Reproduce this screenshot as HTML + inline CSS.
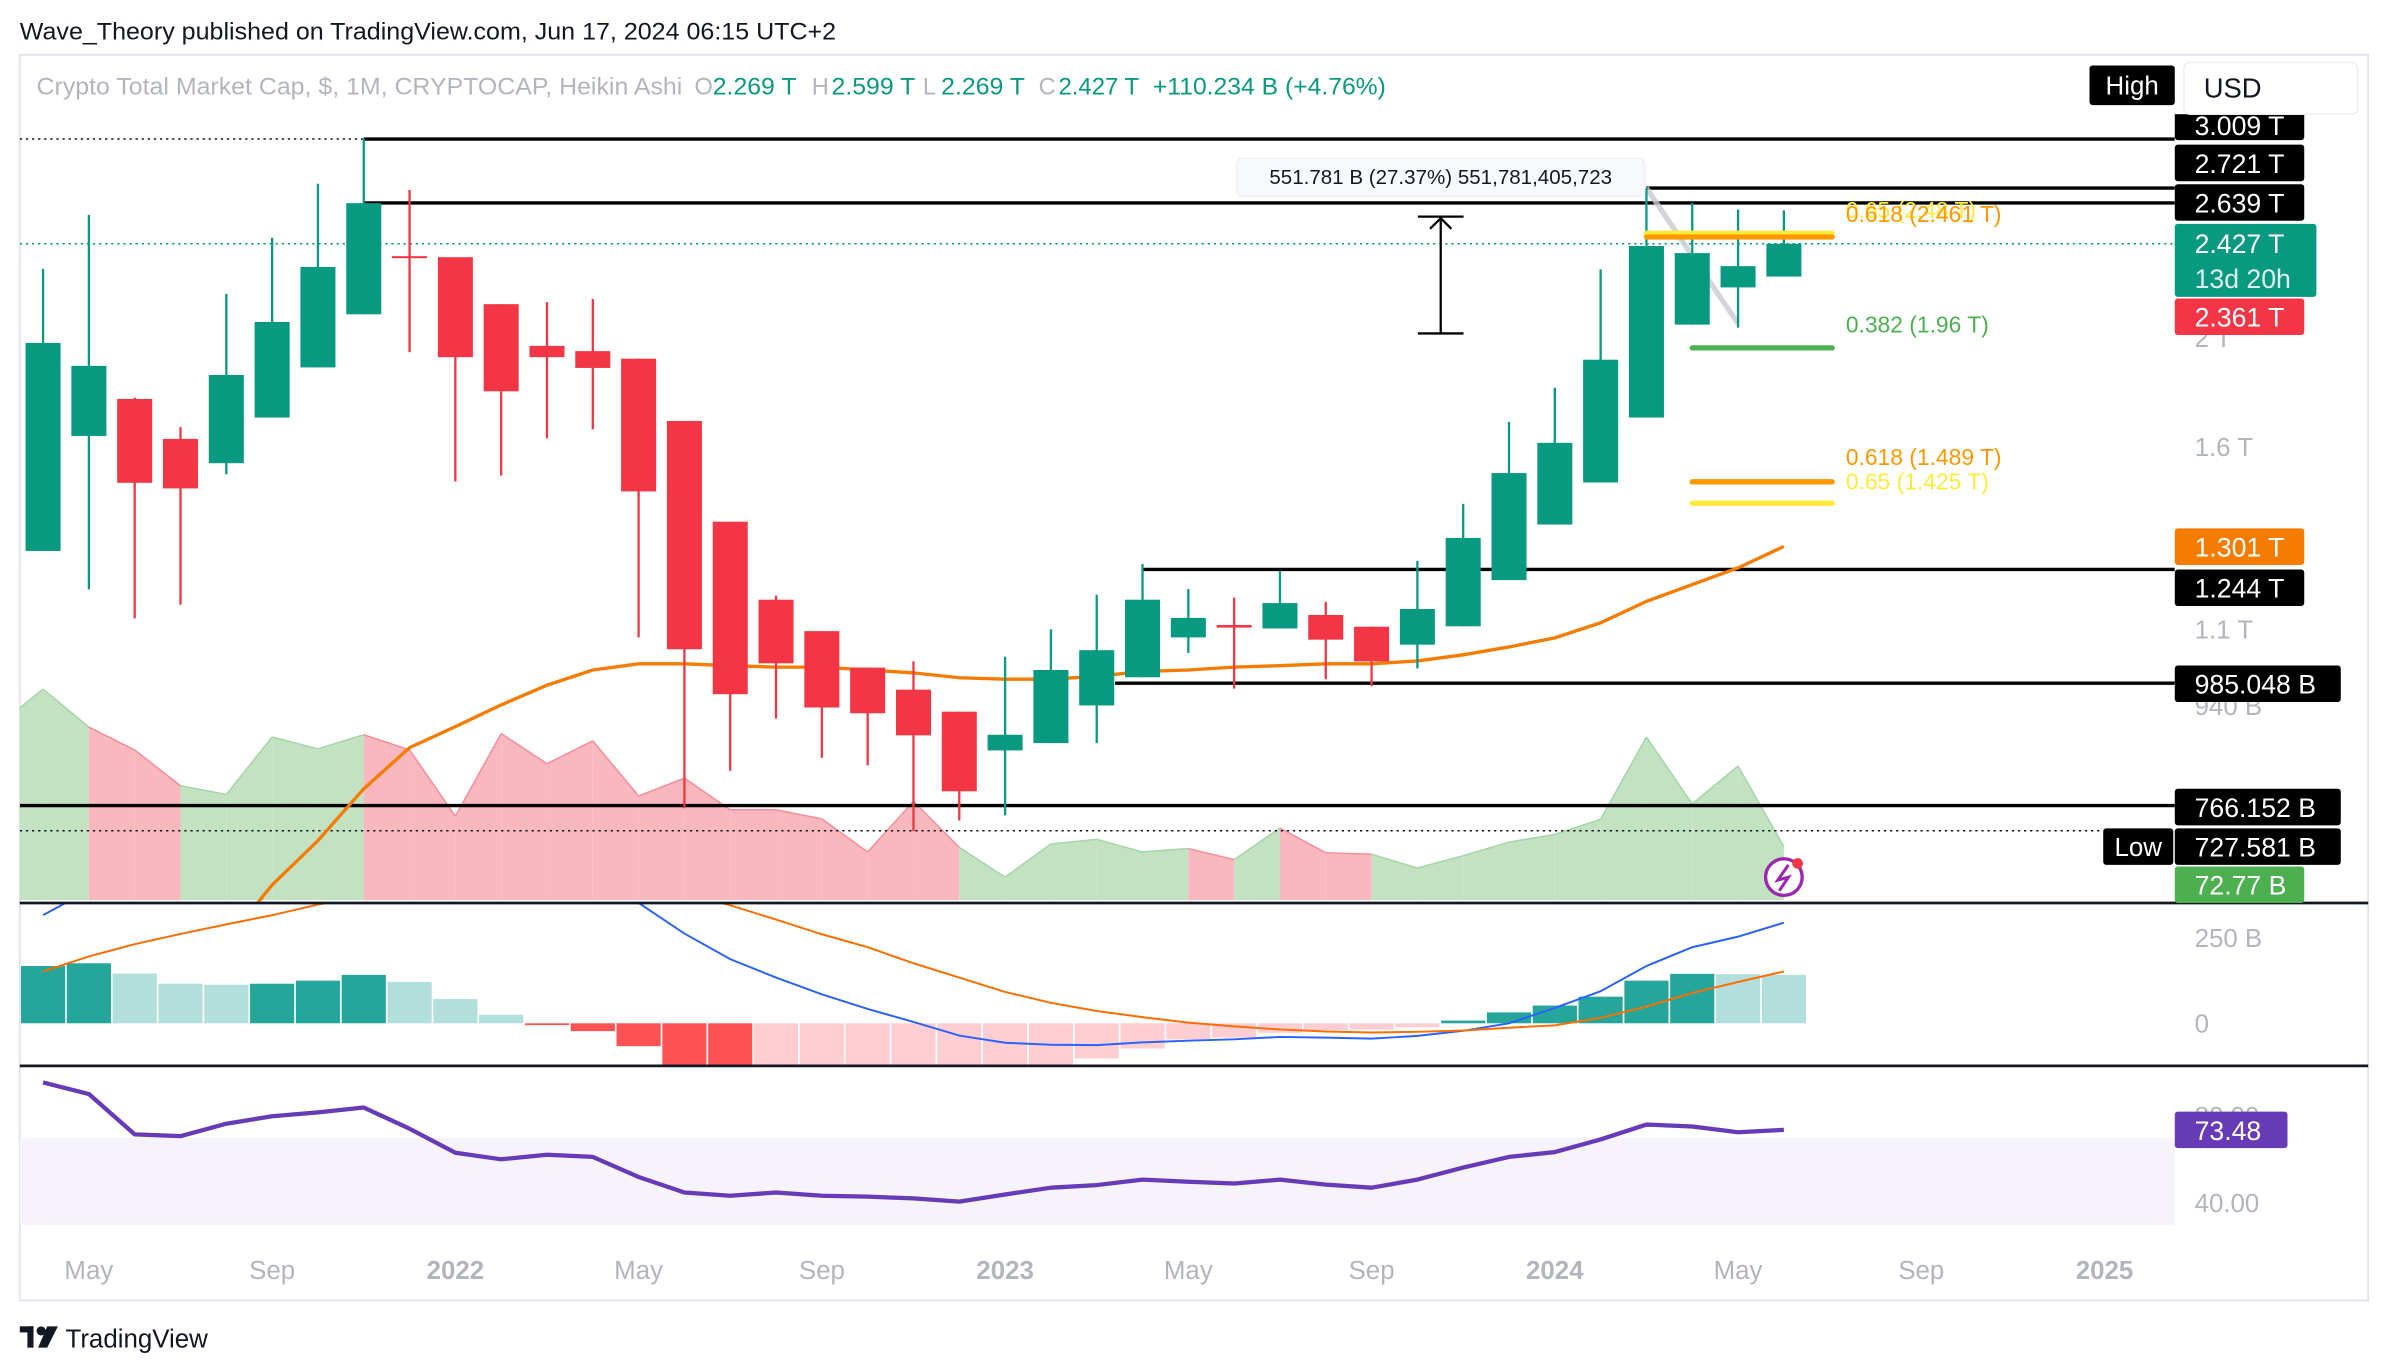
<!DOCTYPE html>
<html><head><meta charset="utf-8">
<style>
html,body{margin:0;padding:0;background:#fff;}
svg{display:block;}
text{font-family:"Liberation Sans",sans-serif;}
</style></head>
<body>
<svg id="chart" xmlns="http://www.w3.org/2000/svg" width="2388" height="1372" viewBox="0 0 1568 901" preserveAspectRatio="none">
<defs>
<clipPath id="cMain"><rect x="13" y="36" width="1415" height="556"/></clipPath>
<clipPath id="cMacd"><rect x="13" y="593" width="1415" height="107"/></clipPath>
<clipPath id="cRsi"><rect x="13" y="701" width="1415" height="107"/></clipPath>
</defs>
<rect x="0" y="0" width="1568" height="901" fill="#fff"/>
<text x="13" y="26" font-size="15.5" fill="#131722" textLength="536" lengthAdjust="spacingAndGlyphs">Wave_Theory published on TradingView.com, Jun 17, 2024 06:15 UTC+2</text>
<rect x="13" y="36" width="1542" height="818" fill="none" stroke="#e0e3eb" stroke-width="1.2"/>
<g id="main" clip-path="url(#cMain)"></g>
<g id="over"></g>
<g id="macd" clip-path="url(#cMacd)"></g>
<g id="rsi" clip-path="url(#cRsi)"></g>
<g id="axes"></g>
<g font-size="15.5">
<text x="24" y="62" fill="#b2b5be" textLength="424" lengthAdjust="spacingAndGlyphs">Crypto Total Market Cap, $, 1M, CRYPTOCAP, Heikin Ashi</text>
<text x="456" y="62" fill="#b2b5be">O</text><text x="468" y="62" fill="#089981" textLength="55" lengthAdjust="spacingAndGlyphs">2.269 T</text>
<text x="533" y="62" fill="#b2b5be">H</text><text x="546" y="62" fill="#089981" textLength="55" lengthAdjust="spacingAndGlyphs">2.599 T</text>
<text x="606" y="62" fill="#b2b5be">L</text><text x="618" y="62" fill="#089981" textLength="55" lengthAdjust="spacingAndGlyphs">2.269 T</text>
<text x="682" y="62" fill="#b2b5be">C</text><text x="695" y="62" fill="#089981" textLength="53" lengthAdjust="spacingAndGlyphs">2.427 T</text>
<text x="757" y="62" fill="#089981" textLength="153" lengthAdjust="spacingAndGlyphs">+110.234 B (+4.76%)</text>
</g>
<rect x="1372" y="43" width="56" height="26" rx="2" fill="#000"/>
<text x="1400" y="62" font-size="17" fill="#fff" text-anchor="middle">High</text>
<g>
<rect x="1434" y="41" width="114" height="34" rx="4" fill="#fff" stroke="#eceef2"/>
<text x="1447" y="64" font-size="18" fill="#131722">USD</text>
</g>
<g>
<rect x="13" y="871" width="9" height="4" fill="#131722"/><rect x="18" y="871" width="4" height="14" fill="#131722"/>
<circle cx="27" cy="874" r="3" fill="#131722"/><polygon points="31,871 38,871 31,885 25,885" fill="#131722"/>
<text x="43" y="885" font-size="17" fill="#131722">TradingView</text>
</g>
</svg>
<script>
// ---- data ----
const months = ["Apr 2021","May 2021","Jun 2021","Jul 2021","Aug 2021","Sep 2021","Oct 2021","Nov 2021","Dec 2021","Jan 2022","Feb 2022","Mar 2022","Apr 2022","May 2022","Jun 2022","Jul 2022","Aug 2022","Sep 2022","Oct 2022","Nov 2022","Dec 2022","Jan 2023","Feb 2023","Mar 2023","Apr 2023","May 2023","Jun 2023","Jul 2023","Aug 2023","Sep 2023","Oct 2023","Nov 2023","Dec 2023","Jan 2024","Feb 2024","Mar 2024","Apr 2024","May 2024","Jun 2024"];
const opens = [1.292,1.636,1.765,1.626,1.547,1.699,1.883,2.100,2.366,2.361,2.144,1.968,1.947,1.917,1.687,1.372,1.169,1.096,1.017,0.972,0.929,0.858,0.871,0.941,0.997,1.082,1.110,1.102,1.133,1.106,1.066,1.107,1.217,1.364,1.487,1.699,2.056,2.219,2.269];
const highs = [2.305,2.575,1.770,1.666,2.190,2.457,2.745,3.009,2.710,2.361,2.144,2.153,2.167,1.917,1.687,1.372,1.179,1.096,1.017,1.030,0.929,1.040,1.100,1.181,1.258,1.195,1.174,1.240,1.164,1.106,1.266,1.423,1.684,1.806,2.303,2.721,2.639,2.604,2.599];
const lows = [1.292,1.194,1.125,1.157,1.512,1.699,1.883,2.100,1.943,1.490,1.508,1.628,1.658,1.082,0.762,0.823,0.916,0.845,0.832,0.727,0.743,0.751,0.871,0.871,0.997,1.048,0.974,1.102,0.993,0.979,1.015,1.107,1.217,1.364,1.487,1.699,2.056,2.043,2.269];
const closes = [1.980,1.889,1.486,1.469,1.854,2.067,2.314,2.638,2.356,1.923,1.793,1.923,1.881,1.460,1.056,0.963,1.026,0.937,0.926,0.885,0.789,0.886,1.012,1.054,1.169,1.126,1.104,1.161,1.077,1.030,1.147,1.327,1.516,1.613,1.913,2.416,2.381,2.318,2.427];
const maValues = [null,null,null,null,0.58,0.651,0.713,0.793,0.863,0.901,0.942,0.981,1.012,1.025,1.025,1.021,1.018,1.018,1.012,1.006,0.996,0.993,0.993,0.999,1.009,1.012,1.018,1.021,1.025,1.025,1.031,1.044,1.061,1.081,1.115,1.165,1.206,1.248,1.304];
const volPrev = 456;
const volumes = [554,454,394,300,277,428,397,434,394,220,437,358,418,273,320,237,237,213,126,259,138,60,147,159,126,135,106,189,124,120,84,116,152,172,212,428,252,352,140];
const volUp = ["g","g","r","r","g","g","g","g","r","r","r","r","r","r","r","r","r","r","r","r","r","g","g","g","g","g","r","g","r","r","g","g","g","g","g","g","g","g","g"];
const histValues = [168,176,146,116,113,116,125,142,121,71,25,-1,-23,-67,-140,-150,-145,-135,-130,-128,-128,-126,-126,-103,-74,-47,-42,-28,-20,-18,-12,8,32,52,78,125,145,144,142];
const macdValues = [317,390,440,450,470,520,560,580,560,520,480,440,390,353,263,188,134,85,42,4,-36,-57,-63,-64,-56,-51,-47,-40,-42,-45,-37,-22,0,45,94,168,223,254,295];
const signalValues = [152,196,232,262,290,317,348,375,400,420,430,430,420,400,380,346,304,261,223,176,134,92,60,36,18,2,-9,-18,-24,-27,-25,-21,-13,-6,16,49,89,121,152];
const rsiValues = [95.2,89.9,71.4,70.6,76.3,79.7,81.5,83.7,74.0,63.0,60.0,62.1,61.1,51.9,44.8,43.3,44.8,43.3,42.9,42.1,40.6,43.9,47.0,48.2,50.7,49.7,48.9,50.7,48.4,47.0,50.7,56.2,61.1,63.3,69.1,75.9,75.0,72.4,73.48];
const priceTicks = [2,1.6,1.1,0.94];
const priceTickLabels = ["2 T","1.6 T","1.1 T","940 B"];
const timeTickIdx = [1,5,9,13,17,21,25,29,33,37,41,45];
const timeTickLabels = ["May","Sep","2022","May","Sep","2023","May","Sep","2024","May","Sep","2025"];
const levelValues = [3.009,2.721,2.639,1.244,0.985048,0.766152];
const levelLabels = ["3.009 T","2.721 T","2.639 T","1.244 T","985.048 B","766.152 B"];
const levelStartIdx = [7,35,7,24,23.4,-1];
const fibValues = [2.48,2.461,1.96,1.489,1.425];
const fibLabels = ["0.65 (2.48 T)","0.618 (2.461 T)","0.382 (1.96 T)","0.618 (1.489 T)","0.65 (1.425 T)"];
const fibColors = ["#ffeb3b","#ff9800","#4caf50","#ff9800","#ffeb3b"];
const fibStartIdx = [35,35,36,36,36];
const lastPrice = 2.427, prevClose = 2.361, lowValue = 0.727581, maLast = 1.301;

// ---- scales ----
const NS = "http://www.w3.org/2000/svg";
function xM(i){ return 299 + 30.08*(i-9); }
function yP(p){ return 222 - 320*Math.log(p/2); }
function yV(v){ return 591 - v*0.25; }
function yH(v){ return 672 - v*0.224; }
function yR(v){ return 790 - (v-40)*1.434; }
function mk(tag, attrs, parent, txt){
  const e = document.createElementNS(NS, tag);
  for (const k in attrs) e.setAttribute(k, attrs[k]);
  if (txt!==undefined) e.textContent = txt;
  parent.appendChild(e); return e;
}
const main = document.getElementById('main');
const over = document.getElementById('over');
const macd = document.getElementById('macd');
const rsi = document.getElementById('rsi');
const axes = document.getElementById('axes');

// volume area
for (let i=-1;i<volumes.length-1;i++){
  const v0 = i<0?volPrev:volumes[i], v1 = volumes[i+1];
  const x0 = xM(i), x1 = xM(i+1);
  const g = volUp[i+1]==="g";
  const p = mk('polygon',{points:`${x0},591 ${x0},${yV(v0)} ${x1},${yV(v1)} ${x1},591`,fill:g?"#c3e2c2":"#f9b8be"},main);
  
  
  const l = mk('line',{x1:x0,y1:yV(v0),x2:x1,y2:yV(v1),stroke:g?"#a5d6a7":"#f48f9a","stroke-width":1},main);
  
  
}
// dotted lines
let d1 = mk('line',{x1:13,y1:yP(3.009),x2:xM(7),y2:yP(3.009),stroke:"#131722","stroke-width":1,"stroke-dasharray":"1.5 2.5"},main);


let d2 = mk('line',{x1:13,y1:yP(lastPrice),x2:1428,y2:yP(lastPrice),stroke:"#089981","stroke-width":1,"stroke-dasharray":"1.5 2.5"},main);


let d3 = mk('line',{x1:13,y1:yP(lowValue),x2:1380,y2:yP(lowValue),stroke:"#131722","stroke-width":1,"stroke-dasharray":"1.5 2.5"},main);


// level lines
levelValues.forEach((v,i)=>{
  const x0 = levelStartIdx[i]<0?13:xM(levelStartIdx[i]);
  const l = mk('line',{x1:x0,y1:yP(v),x2:1428,y2:yP(v),stroke:"#000","stroke-width":2.2},main);
  
  
});
// trend line gray
let tl = mk('line',{x1:xM(35),y1:yP(2.721),x2:xM(37),y2:yP(2.06),stroke:"#c9cbd3","stroke-width":3.5,opacity:0.8},main);


// MA line
let pts=[]; maValues.forEach((v,i)=>{ if(v!==null) pts.push(xM(i)+","+yP(v)); });
let ma = mk('polyline',{points:pts.join(" "),fill:"none",stroke:"#f57c00","stroke-width":2.2},main);


// candles
for (let i=0;i<opens.length;i++){
  const up = closes[i]>=opens[i];
  const col = up?"#089981":"#f23645";
  const x = xM(i);
  const g = mk('g',{},main);
  
  
  mk('line',{x1:x,y1:yP(highs[i]),x2:x,y2:yP(lows[i]),stroke:col,"stroke-width":1.5},g);
  const t = yP(Math.max(opens[i],closes[i])), b = yP(Math.min(opens[i],closes[i]));
  mk('rect',{x:x-11.5,y:t,width:23,height:Math.max(b-t,1.3),fill:col},g);
}
// fib lines
fibValues.forEach((v,i)=>{
  const l = mk('line',{x1:xM(fibStartIdx[i]),y1:yP(v),x2:1203,y2:yP(v),stroke:fibColors[i],"stroke-width":3.5,"stroke-linecap":"round"},over);
  
  
  const dy = [-15,-15,-15,-16,-14][i];
  const t = mk('text',{x:1212,y:yP(v)+dy+5,"font-size":15,fill:fibColors[i]},over,fibLabels[i]);
  
  
});
// measure tool
const mg = mk('g',{},over);


mk('line',{x1:946,y1:yP(2.639)+9,x2:946,y2:yP(2.019),stroke:"#000","stroke-width":1.5},mg);
mk('line',{x1:931,y1:yP(2.639)+9,x2:961,y2:yP(2.639)+9,stroke:"#000","stroke-width":1.5},mg);
mk('line',{x1:931,y1:yP(2.019),x2:961,y2:yP(2.019),stroke:"#000","stroke-width":1.5},mg);
mk('polyline',{points:`939,${yP(2.639)+17} 946,${yP(2.639)+10} 953,${yP(2.639)+17}`,fill:"none",stroke:"#000","stroke-width":1.5},mg);
mk('rect',{x:812,y:104,width:268,height:25,rx:4,fill:"#f8f9fd",stroke:"#eef0f4"},mg);
mk('text',{x:946,y:121,"font-size":13.5,fill:"#131722","text-anchor":"middle"},mg,"551.781 B (27.37%) 551,781,405,723");
// lightning icon
const li = mk('g',{},over);


mk('circle',{cx:xM(38),cy:576,r:12,fill:"#fff",stroke:"#9c27b0","stroke-width":2.2},li);
mk('polyline',{points:`${xM(38)+3},568 ${xM(38)-4},578 ${xM(38)+3},576 ${xM(38)-3},585`,fill:"none",stroke:"#9c27b0","stroke-width":2},li);
mk('circle',{cx:xM(38)+9,cy:567,r:3.5,fill:"#f23645"},li);

// pane separators
[593,700].forEach(y=>{ const l = mk('line',{x1:13,y1:y,x2:1555,y2:y,stroke:"#131722","stroke-width":1.8},axes);
  
   });

// MACD
for (let i=0;i<histValues.length;i++){
  const v = histValues[i], pv = i>0?histValues[i-1]:v-1;
  let col;
  if (v>=0) col = v>pv?"#26a69a":"#b2dfdb"; else col = v<pv?"#ff5252":"#ffcdd2";
  const y0 = yH(0), y1 = yH(v);
  const r = mk('rect',{x:xM(i)-14.5,y:Math.min(y0,y1),width:29,height:Math.max(Math.abs(y1-y0),1.2),fill:col},macd);
  
  
}
let ml = mk('polyline',{points:macdValues.map((v,i)=>xM(i)+","+yH(v)).join(" "),fill:"none",stroke:"#2962ff","stroke-width":1.3},macd);


let sl = mk('polyline',{points:signalValues.map((v,i)=>xM(i)+","+yH(v)).join(" "),fill:"none",stroke:"#ff6d00","stroke-width":1.3},macd);



// RSI
let band = mk('rect',{x:13,y:yR(70),width:1415,height:yR(30)-yR(70),fill:"#f5f2fc",opacity:0.9},rsi);


let rl = mk('polyline',{points:rsiValues.map((v,i)=>xM(i)+","+yR(v)).join(" "),fill:"none",stroke:"#673ab7","stroke-width":2.8,"stroke-linejoin":"round"},rsi);



// axes labels
priceTicks.forEach((p,i)=>{ const t = mk('text',{x:1441,y:yP(p)+6,"font-size":17,fill:"#b2b5be"},axes,priceTickLabels[i]);
  
   });
[[250,"250 B"],[0,"0"]].forEach(a=>{ const t = mk('text',{x:1441,y:yH(a[0])+6,"font-size":17,fill:"#b2b5be"},axes,a[1]);
  
   });
[[80,"80.00"],[40,"40.00"]].forEach(a=>{ const t = mk('text',{x:1441,y:yR(a[0])+6,"font-size":17,fill:"#b2b5be"},axes,a[1]);
  
   });
timeTickIdx.forEach((idx,i)=>{
  const bold = /^\d{4}$/.test(timeTickLabels[i]);
  const t = mk('text',{x:xM(idx),y:840,"font-size":17,fill:"#b2b5be","text-anchor":"middle","font-weight":bold?"bold":"normal"},axes,timeTickLabels[i]);
  
  
});
function badge(cy,w,fill,txt,h){
  h = h||24;
  const g = mk('g',{},axes);
  
  
  mk('rect',{x:1428,y:cy-h/2,width:w,height:h,rx:2,fill:fill},g);
  mk('text',{x:1441,y:cy+6.5,"font-size":17.5,fill:"#fff"},g,txt);
  return g;
}
badge(82,85,"#000",levelLabels[0],20);
badge(107,85,"#000",levelLabels[1]);
badge(133,85,"#000",levelLabels[2]);
const lg = badge(171,93,"#089981","2.427 T",48);
lg.querySelector('text').setAttribute('y',166);
mk('text',{x:1441,y:189,"font-size":17.5,fill:"#e0f2ef"},lg,"13d 20h");
badge(208,85,"#f23645",prevClose+" T");
badge(359,85,"#f57c00",maLast+" T");
badge(386,85,"#000",levelLabels[3]);
badge(449,109,"#000",levelLabels[4]);
badge(530,109,"#000",levelLabels[5]);
badge(556,109,"#000","727.581 B");
badge(581,85,"#4caf50","72.77 B");
badge(742,74,"#673ab7","73.48");
const lowg = mk('g',{},axes);


mk('rect',{x:1381,y:544,width:46,height:24,rx:2,fill:"#000"},lowg);
mk('text',{x:1404,y:562,"font-size":17,fill:"#fff","text-anchor":"middle"},lowg,"Low");
// USD box overlays 3.009 badge top
mk('rect',{x:1428,y:70,width:90,height:5,fill:"#fff"},axes);
</script>
</body></html>
